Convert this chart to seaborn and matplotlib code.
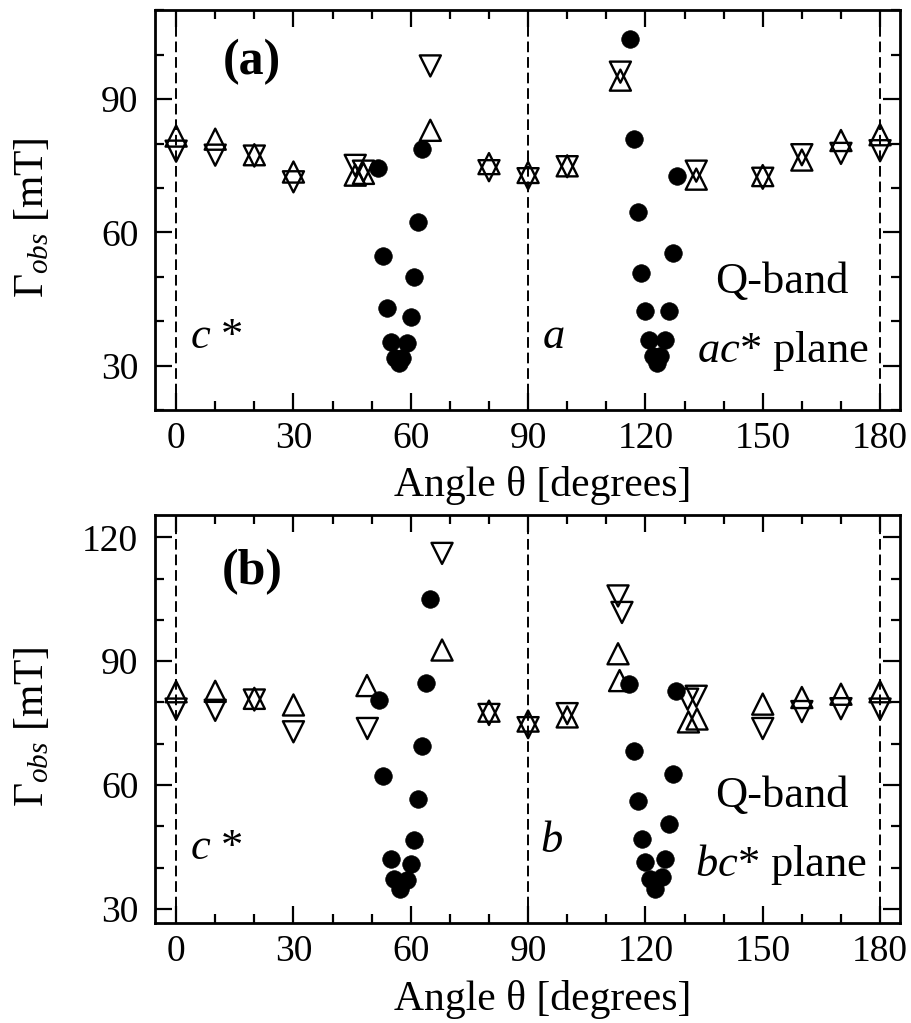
import pandas as pd
import numpy as np
import matplotlib
matplotlib.use("Agg")
import matplotlib.pyplot as plt
from matplotlib.ticker import MultipleLocator
import seaborn as sns

# ---- panel (a): ac* plane ----
a_up_angle = [0, 10, 20, 30, 45.8, 47.9, 65, 80, 90, 100, 113.6, 133, 150, 160, 170, 180]
a_up_gamma = [81.7, 81.0, 77.5, 73.6, 72.9, 73.3, 83.0, 75.5, 73.5, 75.0, 94.3, 72.0, 72.8, 76.3, 80.7, 82.0]
a_down_angle = [0, 10, 20, 30, 45.8, 47.9, 65, 80, 90, 100, 113.6, 133, 150, 160, 170, 180]
a_down_gamma = [78.3, 77.4, 77.2, 71.4, 75.1, 73.8, 97.5, 73.9, 72.1, 74.8, 96.1, 73.8, 72.2, 77.5, 77.8, 78.4]
a_dot_angle = [51.7, 52.9, 53.9, 54.9, 56.0, 56.9, 57.7, 59.0, 60.0, 60.9, 61.8, 62.8,
               116.0, 117.0, 118.0, 118.8, 120.0, 120.8, 122.0, 123.0, 123.8, 125.1, 126.0, 127.0, 128.0]
a_dot_gamma = [74.5, 54.7, 42.9, 35.4, 31.7, 30.6, 31.7, 35.0, 41.0, 49.9, 62.4, 78.7,
               103.6, 81.0, 64.7, 50.8, 42.2, 35.8, 32.1, 30.6, 32.1, 35.8, 42.2, 55.3, 72.6]

# ---- panel (b): bc* plane ----
b_up_angle = [0, 10, 20, 30, 48.8, 68, 80, 90, 100, 113, 113.4, 131, 133.2, 150, 160, 170, 180]
b_up_gamma = [82.6, 82.7, 81.0, 79.4, 84.1, 92.7, 77.9, 75.5, 76.5, 91.8, 85.3, 75.3, 76.0, 79.6, 81.2, 82.0, 82.6]
b_down_angle = [0, 10, 20, 30, 48.9, 68, 80, 90, 100, 113, 114, 130.8, 133, 150, 160, 170, 180]
b_down_gamma = [78.4, 78.1, 80.6, 72.9, 73.7, 116.1, 77.1, 73.9, 77.3, 105.8, 101.8, 80.8, 81.5, 73.7, 77.8, 78.5, 78.4]
b_dot_angle = [51.9, 52.9, 54.9, 55.8, 57.3, 59.0, 60.0, 60.9, 61.8, 62.8, 63.9, 65.0,
               115.9, 117.1, 118.0, 119.1, 120.0, 121.2, 122.5, 124.2, 125.1, 126.0, 127.0, 127.9]
b_dot_gamma = [80.7, 62.2, 42.1, 37.3, 34.9, 36.9, 40.8, 46.6, 56.7, 69.4, 84.8, 105.0,
               84.4, 68.2, 56.1, 47.0, 41.3, 37.3, 34.9, 37.7, 42.1, 50.6, 62.8, 82.8]

axis_angles = [0, 90, 180]

sns.set_theme(style="ticks")
plt.rcParams['font.family'] = ['Liberation Serif', 'DejaVu Serif']
plt.rcParams['mathtext.fontset'] = 'custom'
plt.rcParams['mathtext.rm'] = 'Liberation Serif'
plt.rcParams['mathtext.it'] = 'Liberation Serif:italic'
plt.rcParams['mathtext.bf'] = 'Liberation Serif:bold'
plt.rcParams['text.color'] = 'black'
plt.rcParams['axes.labelcolor'] = 'black'
plt.rcParams['xtick.color'] = 'black'
plt.rcParams['ytick.color'] = 'black'


def frame(ax, ylim, yticks):
    ax.set_xlim(-5.4, 185.1)
    ax.set_ylim(*ylim)
    ax.set_xticks([0, 30, 60, 90, 120, 150, 180])
    ax.set_yticks(yticks)
    ax.xaxis.set_minor_locator(MultipleLocator(10))
    ax.yaxis.set_minor_locator(MultipleLocator(10))
    ax.tick_params(which='both', direction='in', top=True, right=True, width=1.6,
                   colors='black', labelcolor='black')
    ax.tick_params(which='major', length=12)
    ax.tick_params(which='minor', length=6.5)
    ax.tick_params(axis='x', which='major', labelsize=27, pad=8)
    ax.tick_params(axis='y', which='major', labelsize=27, pad=12)
    for s in ax.spines.values():
        s.set_linewidth(2.0)
        s.set_color('black')
    for a in axis_angles:
        ax.axvline(a, color='black', lw=1.4, ls=(0, (5.5, 2.5)), zorder=1)
    ax.set_xlabel("Angle θ [degrees]", fontsize=30, color='black')
    ax.set_ylabel(r"$\Gamma_{obs}$ [mT]", fontsize=30, color='black')
    ax.xaxis.set_label_coords(0.52, -0.14)
    ax.yaxis.set_label_coords(-0.138, 0.48)


def panel(ax, up_x, up_y, dn_x, dn_y, dot_x, dot_y):
    up = pd.DataFrame({'angle': up_x, 'gamma': up_y})
    dn = pd.DataFrame({'angle': dn_x, 'gamma': dn_y})
    dots = pd.DataFrame({'angle': dot_x, 'gamma': dot_y})
    sns.scatterplot(data=up, x='angle', y='gamma', marker='^', s=230,
                    facecolor='none', edgecolor='black', linewidth=1.7, ax=ax, zorder=3)
    sns.scatterplot(data=dn, x='angle', y='gamma', marker='v', s=230,
                    facecolor='none', edgecolor='black', linewidth=1.7, ax=ax, zorder=3)
    sns.scatterplot(data=dots, x='angle', y='gamma', marker='o', s=160,
                    color='black', edgecolor='black', linewidth=0.5, ax=ax, zorder=4)


fig = plt.figure(figsize=(9.11, 10.23), dpi=100)
ax_a = fig.add_axes([155 / 911, 1 - 410 / 1023, 745 / 911, 400 / 1023])
ax_b = fig.add_axes([155 / 911, 1 - 923 / 1023, 745 / 911, 408 / 1023])

panel(ax_a, a_up_angle, a_up_gamma, a_down_angle, a_down_gamma, a_dot_angle, a_dot_gamma)
frame(ax_a, (20, 110.1), [30, 60, 90])
panel(ax_b, b_up_angle, b_up_gamma, b_down_angle, b_down_gamma, b_dot_angle, b_dot_gamma)
frame(ax_b, (26.6, 125.4), [30, 60, 90, 120])

txt = dict(fontsize=32, color='black')
ax_a.text(12, 98.4, "(a)", fontweight='bold', fontsize=36, va='center', ha='left')
ax_a.text(3.6, 34.0, r"$c$ *", ha='left', va='baseline', **txt)
ax_a.text(93.5, 34.0, r"$a$", ha='left', va='baseline', **txt)
ax_a.text(137.9, 46.3, "Q-band", ha='left', va='baseline', **txt)
ax_a.text(133.2, 30.9, r"$ac$* plane", ha='left', va='baseline', **txt)

ax_b.text(11.7, 111.7, "(b)", fontweight='bold', fontsize=36, va='center', ha='left')
ax_b.text(3.6, 42.1, r"$c$ *", ha='left', va='baseline', **txt)
ax_b.text(93.1, 43.7, r"$b$", ha='left', va='baseline', **txt)
ax_b.text(137.9, 54.6, "Q-band", ha='left', va='baseline', **txt)
ax_b.text(132.7, 38.1, r"$bc$* plane", ha='left', va='baseline', **txt)

fig.savefig("out.png", dpi=100, facecolor='white')
